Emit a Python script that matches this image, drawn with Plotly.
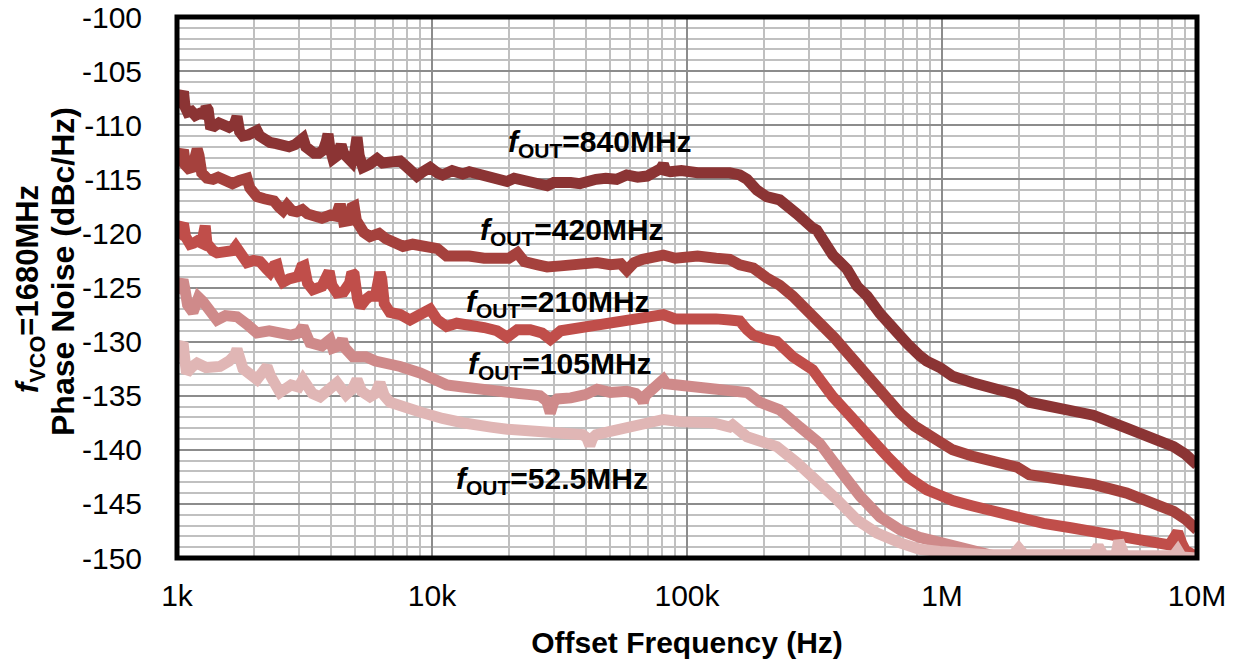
import plotly.graph_objects as go

# ---------------- data ----------------
f840 = [1000, 1020, 1045, 1060, 1075, 1100, 1140, 1180, 1230, 1280, 1300, 1325, 1350, 1400, 1460, 1520,
        1600, 1680, 1719, 1760, 1814, 1900, 2000, 2058, 2110, 2200, 2316, 2450, 2600, 2750, 2900, 3050,
        3120, 3200, 3320, 3450, 3600, 3750, 3850, 3910, 3970, 4090, 4250, 4400, 4500, 4700, 4850, 4980,
        5080, 5180, 5360, 5700, 6090, 6400, 6800, 7200, 7500, 8000, 8400, 8720, 9200, 9830, 10500, 11000,
        12000, 13200, 14000, 15000, 16500, 18000, 19700, 21000, 22000, 25000, 28300, 30000, 32000, 35000,
        38000, 41000, 44000, 48000, 53000, 58000, 64000, 69800, 76000, 79000, 80800, 82500, 86000, 95000,
        110000, 126000, 147000, 161000, 172000, 188000, 205000, 231000, 260000, 270000, 311000, 323000,
        373000, 424000, 465000, 509000, 571000, 609000, 685000, 731000, 817000, 871000, 981000, 1100000,
        1320000, 1600000, 1970000, 2200000, 3200000, 3920000, 5300000, 6900000, 8100000, 9000000, 10000000]
pn840 = [-108.0, -107.9, -107.2, -106.9, -108.3, -108.8, -108.7, -109.1, -108.9, -109.0, -108.3, -108.6, -110.0, -110.1, -109.8, -110.1,
         -110.2, -109.9, -109.2, -110.6, -111.0, -110.9, -110.7, -110.5, -111.0, -111.4, -111.6, -111.7, -111.8, -112.0, -111.8, -111.4,
         -111.2, -112.0, -112.4, -112.6, -112.6, -112.3, -111.5, -110.8, -112.0, -113.1, -112.8, -111.8, -112.6, -113.2, -113.4, -112.5,
         -111.1, -112.8, -113.9, -113.6, -113.1, -113.5, -113.4, -113.2, -113.3, -113.9, -114.2, -114.7, -114.3, -113.9, -114.4, -114.6,
         -114.2, -114.5, -114.3, -114.5, -114.8, -114.9, -115.2, -114.9, -115.0, -115.4, -115.6, -115.3, -115.4, -115.3,
         -115.4, -115.1, -115.0, -114.9, -115.0, -114.6, -114.8, -114.7, -114.4, -114.0, -113.6, -114.2, -114.3, -114.2,
         -114.4, -114.3, -114.4, -114.6, -115.0, -116.0, -116.6, -116.9, -117.7, -118.2, -119.5, -119.7,
         -122.0, -123.3, -124.9, -125.8, -127.4, -128.2, -129.6, -130.2, -131.3, -131.8, -132.4, -133.2,
         -133.8, -134.4, -134.9, -135.6, -136.4, -136.8, -138.0, -138.9, -139.7, -140.4, -141.4]

f420 = [1000, 1020, 1045, 1060, 1080, 1110, 1150, 1180, 1200, 1220, 1250, 1311, 1384, 1450, 1550, 1650,
        1760, 1840, 1881, 1930, 1980, 2058, 2200, 2400, 2520, 2604, 2700, 2820, 2950, 3100, 3250, 3410,
        3700, 4000, 4200, 4300, 4400, 4500, 4750, 4850, 4950, 5050, 5150, 5400, 5710, 6200, 6600, 7000,
        7700, 8400, 9100, 9830, 10500, 11400, 12500, 14000, 16000, 18000, 20000, 21600, 23000,
        26000, 28300, 32000, 36000, 40000, 44400, 50000, 55000, 58100, 62000, 67000, 75000, 80800, 90000,
        110000, 130000, 147000, 161000, 182000, 205000, 231000, 260000, 300000, 331000, 380000, 424000,
        480000, 535000, 610000, 685000, 780000, 871000, 981000, 1100000, 1320000, 1600000, 1970000,
        2200000, 3200000, 3920000, 5300000, 6900000, 8100000, 9000000, 10000000]
pn420 = [-113.6, -113.4, -112.6, -112.3, -113.7, -114.0, -113.9, -113.0, -112.2, -112.8, -114.4, -114.9, -115.0, -114.8, -115.2, -115.4,
         -115.1, -115.0, -114.9, -115.8, -116.3, -116.6, -116.8, -117.0, -117.6, -117.9, -117.4, -117.9, -118.0, -117.8, -118.2, -118.4,
         -118.6, -118.3, -118.4, -117.7, -117.7, -118.9, -118.8, -117.6, -117.5, -118.8, -119.2, -119.9, -120.3, -120.0, -120.5, -120.7,
         -121.2, -121.0, -121.1, -121.2, -121.4, -122.1, -122.0, -122.1, -122.3, -122.4, -122.3, -121.8, -122.6,
         -122.9, -123.1, -123.0, -122.9, -122.8, -122.7, -122.9, -122.8, -123.4, -122.7, -122.4, -122.3, -122.0, -122.3,
         -122.1, -122.3, -122.4, -122.9, -123.2, -124.1, -124.8, -125.8, -127.2, -128.0, -129.7, -131.0,
         -132.5, -133.8, -135.2, -136.6, -137.8, -138.6, -139.3, -140.0, -140.6, -141.1, -141.6,
         -142.3, -142.9, -143.2, -144.0, -144.9, -145.7, -146.4, -147.4]

f210 = [1000, 1020, 1045, 1060, 1080, 1125, 1160, 1200, 1250, 1275, 1290, 1310, 1340, 1384, 1435, 1550,
        1650, 1700, 1740, 1800, 1881, 2000, 2115, 2250, 2316, 2400, 2465, 2530, 2604, 2750, 2850, 2980,
        3080, 3150, 3250, 3410, 3700, 3850, 3950, 4050, 4240, 4500, 4750, 4850, 4950, 5100, 5220, 5500,
        5710, 6000, 6150, 6250, 6350, 6500, 6840, 7500, 8200, 9000, 9830, 10500, 11400, 12500,
        14000, 16000, 18000, 19700, 21600, 24300, 27000, 29100, 32000, 36000, 40000, 44400, 50000, 56000,
        62000, 70000, 80800, 90000, 110000, 130000, 147000, 161000, 172000, 182000, 205000, 225000,
        260000, 311000, 373000, 424000, 509000, 609000, 731000, 871000, 981000, 1100000, 1320000,
        1600000, 1970000, 2500000, 3200000, 3920000, 5000000, 6000000, 7000000, 7800000, 8100000,
        8400000, 8700000, 9000000, 10000000]
pn210 = [-120.3, -120.1, -119.3, -119.1, -120.3, -121.0, -120.9, -120.7, -120.9, -119.6, -119.3, -120.9, -121.4, -121.6, -121.8, -121.8,
         -121.6, -121.2, -121.5, -122.3, -122.7, -122.5, -122.6, -123.3, -123.6, -123.0, -122.9, -124.0, -124.5, -124.2, -124.0, -124.0,
         -123.1, -123.0, -124.6, -125.2, -124.9, -124.3, -123.5, -124.8, -125.5, -125.4, -124.6, -123.6, -123.8, -126.0, -126.8, -126.1,
         -125.8, -125.8, -124.0, -123.6, -124.2, -126.5, -127.3, -127.5, -128.0, -127.5, -127.0, -128.0, -128.6, -128.3,
         -128.6, -128.7, -129.0, -129.6, -128.9, -128.9, -129.2, -129.8, -129.0, -128.8, -128.7, -128.6, -128.3, -128.2,
         -128.0, -127.9, -127.5, -127.9, -127.8, -127.9, -128.0, -128.1, -128.9, -129.4, -129.8, -130.0,
         -131.4, -132.6, -135.1, -136.6, -138.8, -140.6, -142.5, -143.7, -144.2, -144.7, -145.2,
         -145.7, -146.2, -146.8, -147.2, -147.5, -147.9, -148.3, -148.6, -148.8, -148.0,
         -147.6, -148.6, -149.3, -149.9]

f105 = [1000, 1030, 1056, 1075, 1100, 1155, 1190, 1215, 1265, 1320, 1435, 1550, 1719, 1881, 2058, 2300,
        2534, 2800, 3000, 3120, 3220, 3320, 3700, 3900, 3980, 4080, 4300, 4450, 4560, 4900, 5500, 6000,
        6660, 7500, 8980, 10000, 11400, 13200, 15000, 17000, 19700, 22000, 24300, 26500, 28200, 29100,
        30000, 31000, 35000, 40000, 44400, 50000, 58000, 63000, 66000, 67300, 68600, 72000, 78000, 80800,
        83000, 90000, 110000, 130000, 151000, 172000, 193000, 231000, 277000, 331000, 398000,
        478000, 571000, 685000, 817000, 981000, 1160000, 1320000, 1600000, 2000000, 3000000, 5000000,
        10000000]
pn105 = [-125.5, -125.0, -124.3, -125.2, -126.6, -127.3, -126.2, -125.9, -126.3, -126.8, -128.0, -127.6, -127.7, -128.4, -129.2, -129.0,
         -129.2, -129.4, -129.2, -128.6, -129.4, -130.1, -130.4, -130.0, -129.8, -130.6, -130.4, -129.8, -130.6, -131.4, -131.4, -131.8,
         -132.0, -132.3, -132.9, -133.3, -134.0, -134.2, -134.4, -134.6, -134.7, -134.8, -134.9, -135.0, -135.5, -136.6,
         -135.6, -135.3, -135.2, -134.9, -134.4, -134.7, -134.6, -134.8, -135.2, -135.6, -135.0, -134.6, -134.1, -133.5,
         -133.9, -134.0, -134.0, -134.2, -134.4, -134.7, -135.6, -136.3, -137.9, -139.4, -141.9,
         -144.3, -146.2, -147.4, -148.1, -148.6, -149.1, -149.5, -149.8, -149.9, -150.1, -150.2,
         -150.3]

f52 = [1000, 1030, 1056, 1075, 1090, 1150, 1198, 1300, 1474, 1600, 1680, 1719, 1760, 1814, 2058, 2180,
       2254, 2330, 2400, 2534, 2800, 3000, 3120, 3250, 3400, 3640, 3900, 4240, 4600, 4900, 5080, 5300,
       5710, 6000, 6250, 6500, 6840, 7500, 8200, 8980, 9830, 11000, 13200, 15000, 17000, 19700, 23000,
       26000, 29000, 32800, 36000, 39000, 40500, 41600, 42700, 44000, 50000, 59700, 70000,
       80800, 95000, 110000, 126000, 147000, 151000, 172000, 188000, 225000, 270000, 323000, 387000,
       465000, 556000, 685000, 817000, 981000, 1200000, 1500000, 1900000, 2000000, 2100000, 2800000,
       3700000, 3920000, 4100000, 4300000, 4800000, 4930000, 5200000, 7000000, 8100000, 8400000,
       8700000, 10000000]
pn52 = [-131.0, -130.6, -130.1, -131.8, -132.9, -132.3, -132.0, -132.4, -132.3, -131.8, -131.3, -130.7, -131.9, -132.5, -133.5, -132.9,
        -132.3, -133.2, -133.8, -134.7, -134.0, -134.2, -133.5, -134.4, -134.8, -135.1, -134.4, -133.8, -134.9, -134.3, -133.5, -134.6,
        -135.1, -134.8, -133.8, -135.0, -135.6, -135.8, -136.2, -136.5, -136.8, -137.1, -137.5, -137.6, -137.9, -138.1, -138.2,
        -138.4, -138.3, -138.3, -138.5, -138.6, -138.9, -139.6, -138.9, -138.6, -138.3, -137.9, -137.5,
        -137.2, -137.4, -137.4, -137.5, -137.9, -137.7, -138.8, -139.1, -139.7, -141.2, -142.8, -144.6,
        -146.5, -147.7, -148.6, -149.2, -149.4, -149.6, -149.7, -149.7, -149.1, -149.7, -149.8,
        -149.8, -149.7, -148.9, -149.8, -149.8, -148.4, -149.8, -149.9, -149.8, -149.3,
        -149.9, -150.0]

series_names = ["840MHz", "420MHz", "210MHz", "105MHz", "52.5MHz"]
series_f = [f840, f420, f210, f105, f52]
series_pn = [pn840, pn420, pn210, pn105, pn52]
series_colors = ["#8B3434", "#A5413D", "#C04E4A", "#CF8A8A", "#E0B6B5"]

x_tickvals = [1e3, 1e4, 1e5, 1e6, 1e7]
x_ticktext = ["1k", "10k", "100k", "1M", "10M"]
y_tickvals = [-100, -105, -110, -115, -120, -125, -130, -135, -140, -145, -150]
y_ticktext = ["-100", "-105", "-110", "-115", "-120", "-125", "-130", "-135", "-140", "-145", "-150"]

# label positions (log10 of frequency, dBc/Hz)
label_x = [4.659, 4.549, 4.494, 4.502, 4.471]
label_y = [-111.7, -119.8, -126.5, -132.2, -142.8]

FONT = "Liberation Sans, Arial, sans-serif"

fig = go.Figure()
for name, fx, py, col in zip(series_names, series_f, series_pn, series_colors):
    fig.add_trace(go.Scatter(x=fx, y=py, mode="lines", name=name,
                             line=dict(color=col, width=11), showlegend=False))

for name, lx, ly in zip(series_names, label_x, label_y):
    fig.add_annotation(x=lx, y=ly, xref="x", yref="y", showarrow=False,
                       text="<b><i>f</i><sub>OUT</sub>=" + name + "</b>",
                       font=dict(family=FONT, size=30, color="black"),
                       xanchor="center", yanchor="middle")

minor_x = [m * 10 ** d for d in range(3, 7) for m in range(2, 10)]

fig.update_xaxes(type="log", range=[3, 7], tickvals=x_tickvals, ticktext=x_ticktext, automargin=False,
                 showgrid=True, gridcolor="#8C8C8C", gridwidth=2,
                 minor=dict(tickvals=minor_x, showgrid=True, gridcolor="#C0C0C0", gridwidth=2, ticks=""),
                 ticks="outside", ticklen=11, tickcolor="rgba(0,0,0,0)", showline=False, zeroline=False,
                 tickfont=dict(family=FONT, size=30, color="black"),
                 title=dict(text="<b>Offset Frequency (Hz)</b>", font=dict(family=FONT, size=30, color="black"),
                            standoff=20))
fig.update_yaxes(range=[-150, -100], tickvals=y_tickvals, ticktext=y_ticktext, automargin=False,
                 showgrid=True, gridcolor="#8C8C8C", gridwidth=2,
                 minor=dict(dtick=1, showgrid=True, gridcolor="#C0C0C0", gridwidth=2, ticks=""),
                 ticks="outside", ticklen=28, tickcolor="rgba(0,0,0,0)", showline=False, zeroline=False,
                 tickfont=dict(family=FONT, size=30, color="black"))

# y-axis title, two rotated lines
fig.add_annotation(x=(30 - 177) / 1020, y=(558 - 289) / 541, xref="paper", yref="paper", showarrow=False,
                   textangle=-90, text="<b><i>f</i><sub>VCO</sub>=1680MHz</b>",
                   font=dict(family=FONT, size=31, color="black"), xanchor="center", yanchor="middle")
fig.add_annotation(x=(63 - 177) / 1020, y=(558 - 272) / 541, xref="paper", yref="paper", showarrow=False,
                   textangle=-90, text="<b>Phase Noise (dBc/Hz)</b>",
                   font=dict(family=FONT, size=32, color="black"), xanchor="center", yanchor="middle")

fig.add_shape(type="rect", xref="paper", yref="paper", x0=0, x1=1, y0=0, y1=1,
              line=dict(color="black", width=5), layer="above")

fig.update_layout(width=1237, height=663, margin=dict(l=177, r=40, t=17, b=105),
                  plot_bgcolor="white", paper_bgcolor="white")

fig.write_html("out.html", config={"displayModeBar": False},
               post_script="document.body.style.margin='0';document.body.style.overflow='hidden';")
